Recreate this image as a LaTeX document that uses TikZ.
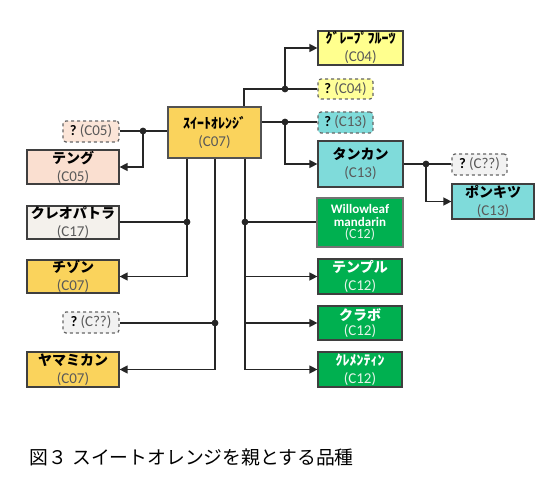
\documentclass[tikz,border=0pt]{standalone}
\usepackage{fontspec}
\setmainfont{Carlito}
\newfontfamily\jp{Noto Sans CJK JP}
\usetikzlibrary{arrows.meta}
\definecolor{bdr}{HTML}{3F3F3F}
\definecolor{lnc}{HTML}{262626}
\definecolor{codegray}{HTML}{595959}
\definecolor{gold}{HTML}{FAD35C}
\definecolor{peach}{HTML}{FADFD0}
\definecolor{peachq}{HTML}{FBE5D8}
\definecolor{cream}{HTML}{F4F1EC}
\definecolor{lyel}{HTML}{FFFF8E}
\definecolor{lyelq}{HTML}{FFFF99}
\definecolor{cyanb}{HTML}{7FDBDA}
\definecolor{lgray}{HTML}{F2F2F2}
\definecolor{grn}{HTML}{00B050}
\definecolor{grncode}{HTML}{E6F5EA}
\newcommand\nm[1]{{\jp\bfseries #1}}
\newcommand\cd[1]{{\fontsize{15}{18}\selectfont\color{codegray}#1}}
\newcommand\wcd[1]{{\fontsize{15}{18}\selectfont\color{grncode}#1}}
\newcommand\qm{{\bfseries ?}}
\tikzset{
  box/.style={draw=bdr, line width=1.2pt, inner sep=0pt, align=center,
    font=\fontsize{14}{18}\selectfont, text=black},
  qbox/.style={draw=bdr!80, dashed, line width=1.2pt, rounded corners=3pt,
    inner sep=0pt, align=center, font=\fontsize{14.5}{16}\selectfont, text=black,
    minimum width=55pt, minimum height=21pt},
  gbox/.style={box, fill=grn, text=white},
  ln/.style={draw=lnc, line width=1.3pt},
  arr/.style={ln, -{Triangle[length=8pt,width=8pt]}},
  dot/.style={fill=lnc}
}
\begin{document}
\begin{tikzpicture}[x=1pt,y=-1pt]
\useasboundingbox[fill=white] (0,0) rectangle (549,500);

% nodes
\node[box, fill=gold, line width=2pt, draw=bdr!90, minimum width=93pt, minimum height=51pt] (SO) at (214.5,132.5)
  {\nm{ｽｲｰﾄｵﾚﾝｼﾞ}\\\cd{(C07)}};
\node[qbox, fill=peachq, minimum width=56pt] (q05) at (91,131.5) {\qm\ \cd{(C05)}};
\node[box, fill=peach, minimum width=92pt, minimum height=34pt] (tengu) at (73,167) {\nm{テング}\\\cd{(C05)}};
\node[box, fill=cream, minimum width=92pt, minimum height=33pt] (cleo) at (73,222.5) {\nm{クレオパトラ}\\\cd{(C17)}};
\node[box, fill=gold, minimum width=92pt, minimum height=33pt] (chizon) at (73,276.5) {\nm{チゾン}\\\cd{(C07)}};
\node[qbox, fill=lgray, minimum width=56pt] (qL) at (91,322.5) {\qm\ \cd{(C??)}};
\node[box, fill=gold, minimum width=92pt, minimum height=35pt] (yama) at (73,369.5) {\nm{ヤマミカン}\\\cd{(C07)}};

\node[box, fill=lyel, minimum width=85pt, minimum height=34pt] (grape) at (360.5,48) {\nm{ｸﾞﾚｰﾌﾟﾌﾙｰﾂ}\\\cd{(C04)}};
\node[qbox, fill=lyelq, minimum height=20pt] (q04) at (345.5,89) {\qm\ \cd{(C04)}};
\node[qbox, fill=cyanb] (q13) at (345.5,122.5) {\qm\ \cd{(C13)}};
\node[box, fill=cyanb, minimum width=85pt, minimum height=46pt] (tankan) at (360.5,164) {\nm{タンカン}\\\cd{(C13)}};
\node[qbox, fill=lgray] (qR) at (479.5,164.5) {\qm\ \cd{(C??)}};
\node[box, fill=cyanb, minimum width=82pt, minimum height=35pt] (ponkitsu) at (493,201.5) {\nm{ポンキツ}\\\cd{(C13)}};

\node[gbox, draw=black!55, line width=2.6pt, minimum width=86pt, minimum height=49pt,
  font=\bfseries\fontsize{13}{12.5}\selectfont] (willow) at (360,222.5)
  {Willowleaf\\mandarin\\{\mdseries\fontsize{14}{12.5}\selectfont\color{grncode}(C12)}};
\node[gbox, minimum width=84pt, minimum height=35pt] (temple) at (360,276.5) {\nm{テンプル}\\\wcd{(C12)}};
\node[gbox, minimum width=84pt, minimum height=34pt, font=\fontsize{14}{15}\selectfont] (kurabo) at (360,323) {\nm{クラボ}\\\wcd{(C12)}};
\node[gbox, minimum width=84pt, minimum height=35pt] (clem) at (360,369.5) {\nm{ｸﾚﾒﾝﾃｨﾝ}\\\wcd{(C12)}};

\node[anchor=west, inner sep=0pt, font=\jp\fontsize{18.8}{20}\selectfont] (cap) at (29.5,457)
  {図３\hspace{5pt}スイートオレンジを親とする品種};

% junctions
\coordinate (d1) at (143,131);
\coordinate (c1) at (187,222);
\coordinate (c2) at (215,323);
\coordinate (c3) at (245,222);
\coordinate (t0) at (244,89);
\coordinate (t1) at (285,89);
\coordinate (t2) at (285,122);
\coordinate (t3) at (426,164);

% connectors
\draw[ln] (q05.east |- d1) -- (d1) -- (SO.west |- d1);
\draw[arr] (d1) |- (tengu.east);

\draw[arr] (SO.south -| c1) |- (chizon.east);
\draw[ln] (cleo.east |- c1) -- (c1);
\draw[arr] (SO.south -| c2) |- (yama.east);
\draw[ln] (qL.east |- c2) -- (c2);
\draw[arr] (SO.south -| c3) |- (clem.west);
\draw[ln] (c3) -- (willow.west |- c3);
\draw[arr] (c3 |- temple.west) -- (temple.west);
\draw[arr] (c3 |- kurabo.west) -- (kurabo.west);

\draw[ln] (SO.north -| t0) -- (t0) -- (t1) -- (q04.west |- t1);
\draw[arr] (t1) |- (grape.west);
\draw[ln] (SO.east |- t2) -- (t2) -- (q13.west |- t2);
\draw[arr] (t2) |- (tankan.west);
\draw[ln] (tankan.east |- t3) -- (t3) -- (qR.west |- t3);
\draw[arr] (t3) |- (ponkitsu.west);

\foreach \p in {d1,c1,c2,c3,t1,t2,t3} \fill[dot] (\p) circle (3.4pt);
\end{tikzpicture}
\end{document}
